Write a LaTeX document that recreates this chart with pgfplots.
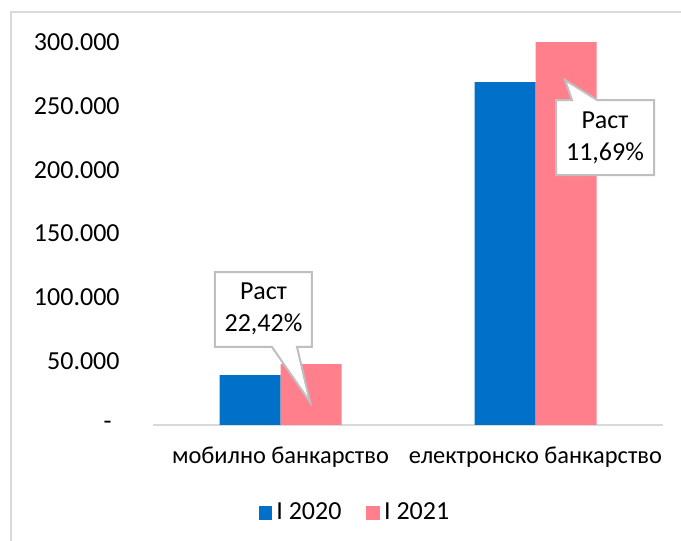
\documentclass[border=0pt]{standalone}
\usepackage{pgfplots}
\pgfplotsset{compat=1.18}
\usepackage{fontspec}
\setmainfont{Carlito}
\definecolor{cblue}{HTML}{0070C8}
\definecolor{cpink}{HTML}{FF808C}
\definecolor{bordergray}{HTML}{D9D9D9}
\definecolor{axisgray}{HTML}{D9D9D9}
\definecolor{callgray}{HTML}{BFBFBF}
\begin{document}
\begin{tikzpicture}
\path[use as bounding box] (0pt,0pt) rectangle (340.5pt,270.5pt);
\draw[bordergray, line width=1pt] (5.5pt,0pt) -- (5.5pt,264.5pt) -- (340.5pt,264.5pt);
\begin{axis}[
  at={(76.5pt,58pt)}, anchor=south west,
  scale only axis, width=255pt, height=191.5pt,
  xmin=-0.5, xmax=1.5, ymin=0, ymax=300000,
  scaled y ticks=false,
  ybar=0pt, bar width=30.5pt, clip=false,
  axis x line*=bottom, axis y line*=left,
  y axis line style={draw=none},
  x axis line style={draw=axisgray, line width=0.75pt},
  major tick length=0pt,
  xtick={0,1},
  xticklabels={мобилно банкарство, електронско банкарство},
  ytick={0,50000,100000,150000,200000,250000,300000},
  yticklabels={-\kern4pt,50.000,100.000,150.000,200.000,250.000,300.000},
  tick label style={font=\fontsize{13}{16}\selectfont, text=black},
  yticklabel style={anchor=east, inner sep=0pt, xshift=-16.5pt},
  xticklabel style={anchor=base, inner sep=0pt, yshift=-19.5pt, font=\fontsize{12.2}{15}\selectfont},
  legend style={at={(0.398,-0.2298)}, anchor=center, draw=none, fill=none,
    legend columns=2, font=\fontsize{13}{16}\selectfont,
    /tikz/every even column/.append style={column sep=10.5pt}},
  legend image code/.code={\fill[#1] (0pt,-3.4pt) rectangle (6.8pt,3.4pt);},
]
\addplot[fill=cblue, draw=none] coordinates {(0,39000) (1,268600)};
\addplot[fill=cpink, draw=none] coordinates {(0,47744) (1,300000)};
\legend{I 2020, I 2021}
\draw[callgray, line width=1pt, fill=white]
  (axis cs:-0.257,119843) -- (axis cs:0.1235,119843) -- (axis cs:0.1235,61097)
  -- (axis cs:0.0647,61097) -- (axis cs:0.1157,18016) -- (axis cs:-0.0333,61097)
  -- (axis cs:-0.257,61097) -- cycle;
\node[align=center, inner sep=0pt, font=\fontsize{13}{16}\selectfont] at (axis cs:-0.0667,90862) {Раст\\22,42\%};
\draw[callgray, line width=1pt, fill=white]
  (axis cs:1.0804,254569) -- (axis cs:1.1431,254569) -- (axis cs:1.1157,270235)
  -- (axis cs:1.2412,254569) -- (axis cs:1.4647,254569) -- (axis cs:1.4647,195822)
  -- (axis cs:1.0804,195822) -- cycle;
\node[align=center, inner sep=0pt, font=\fontsize{13}{16}\selectfont] at (axis cs:1.2725,225196) {Раст\\11,69\%};
\end{axis}
\end{tikzpicture}
\end{document}
